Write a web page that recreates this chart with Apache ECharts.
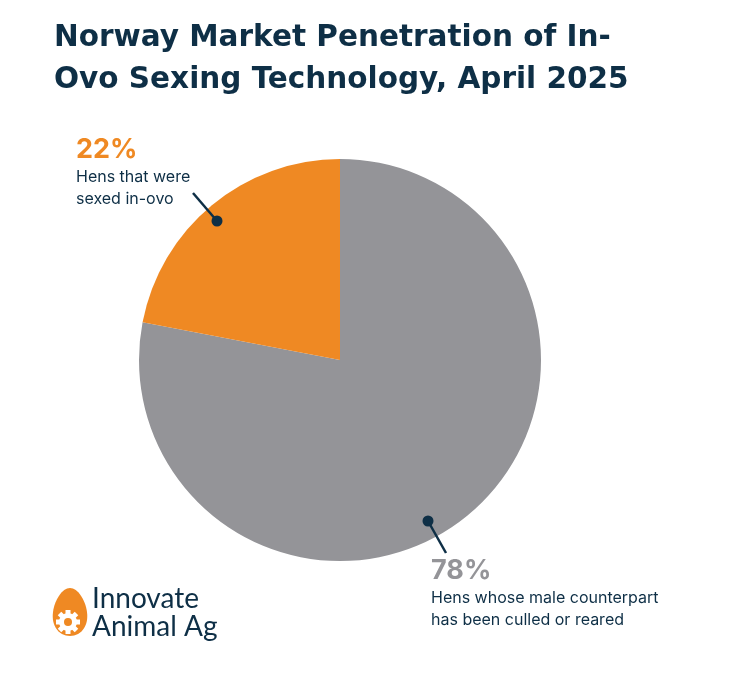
<!DOCTYPE html>
<html>
<head>
<meta charset="utf-8">
<script src="https://cdn.jsdelivr.net/npm/echarts@6/dist/echarts.min.js"></script>
<style>
  html, body { margin: 0; padding: 0; background: #fff; }
  #chart { width: 729px; height: 674px; }
</style>
</head>
<body>
<div id="chart"></div>
<script>
const categories = ['Hens whose male counterpart has been culled or reared', 'Hens that were sexed in-ovo'];
const shares = [78, 22];
const descLines = [
  ['Hens whose male counterpart', 'has been culled or reared'],
  ['Hens that were', 'sexed in-ovo']
];

const NAVY = '#0e2f46';
const ORANGE = '#ef8923';
const GRAY = '#949498';
const colors = [GRAY, ORANGE];

const chart = echarts.init(document.getElementById('chart'));

// logo egg outline, narrower at the top
const eggPts = [];
for (let i = 0; i < 60; i++) {
  const t = i / 60 * Math.PI * 2;
  eggPts.push([70 + 17 * Math.sin(t) * (1 - 0.18 * Math.cos(t)), 612 - 24 * Math.cos(t)]);
}

// gear teeth for the logo
const teeth = [];
for (let i = 0; i < 8; i++) {
  teeth.push({
    type: 'rect',
    x: 68, y: 622, originX: 0, originY: 0,
    rotation: i * Math.PI / 4,
    z: 100,
    shape: { x: -2.5, y: -12, width: 5, height: 5 },
    style: { fill: '#fff' }
  });
}

const option = {
  animation: false,
  title: {
    text: 'Norway Market Penetration of In-\nOvo Sexing Technology, April 2025',
    left: 49,
    top: 12,
    textStyle: {
      fontFamily: 'DejaVu Sans',
      fontWeight: 700,
      fontSize: 29.5,
      lineHeight: 42,
      color: NAVY
    }
  },
  series: [{
    type: 'pie',
    center: [340, 360],
    radius: 201,
    startAngle: 90,
    clockwise: true,
    silent: true,
    data: categories.map((c, i) => ({
      name: c,
      value: shares[i],
      itemStyle: { color: colors[i] }
    })),
    label: {
      show: true,
      position: 'outside',
      overflow: 'none',
      formatter: p => '{' + (p.dataIndex === 0 ? 'pg' : 'po') + '|' + p.value + '%}\n' +
        descLines[p.dataIndex].map(l => '{d|' + l + '}').join('\n'),
      rich: {
        po: { fontFamily: 'Inter', fontWeight: 700, fontSize: 27, lineHeight: 32, color: ORANGE },
        pg: { fontFamily: 'Inter', fontWeight: 700, fontSize: 27, lineHeight: 32, color: GRAY },
        d: { fontFamily: 'Inter', fontSize: 16, lineHeight: 22, color: NAVY }
      }
    },
    labelLine: { show: false },
    labelLayout: p => p.dataIndex === 0
      ? { x: 431, y: 555, align: 'left', verticalAlign: 'top', width: 300 }
      : { x: 76, y: 134, align: 'left', verticalAlign: 'top', width: 200 }
  }],
  graphic: [
    { type: 'line', z: 100, shape: { x1: 217, y1: 221, x2: 193, y2: 193 }, style: { stroke: NAVY, lineWidth: 2.5 } },
    { type: 'circle', z: 100, shape: { cx: 217, cy: 221, r: 5.5 }, style: { fill: NAVY } },
    { type: 'line', z: 100, shape: { x1: 428, y1: 521, x2: 446, y2: 553 }, style: { stroke: NAVY, lineWidth: 2.5 } },
    { type: 'circle', z: 100, shape: { cx: 428, cy: 521, r: 5.5 }, style: { fill: NAVY } },
    { type: 'polygon', z: 99, shape: { points: eggPts }, style: { fill: ORANGE } },
    ...teeth,
    { type: 'circle', z: 100, shape: { cx: 68, cy: 622, r: 9 }, style: { fill: '#fff' } },
    { type: 'circle', z: 101, shape: { cx: 68, cy: 622, r: 4 }, style: { fill: ORANGE } },
    {
      type: 'text',
      z: 100,
      left: 92,
      top: 585,
      style: {
        text: 'Innovate\nAnimal Ag',
        fontFamily: 'Lato',
        fontSize: 28,
        lineHeight: 28,
        fill: NAVY
      }
    }
  ]
};

chart.setOption(option);
</script>
</body>
</html>
